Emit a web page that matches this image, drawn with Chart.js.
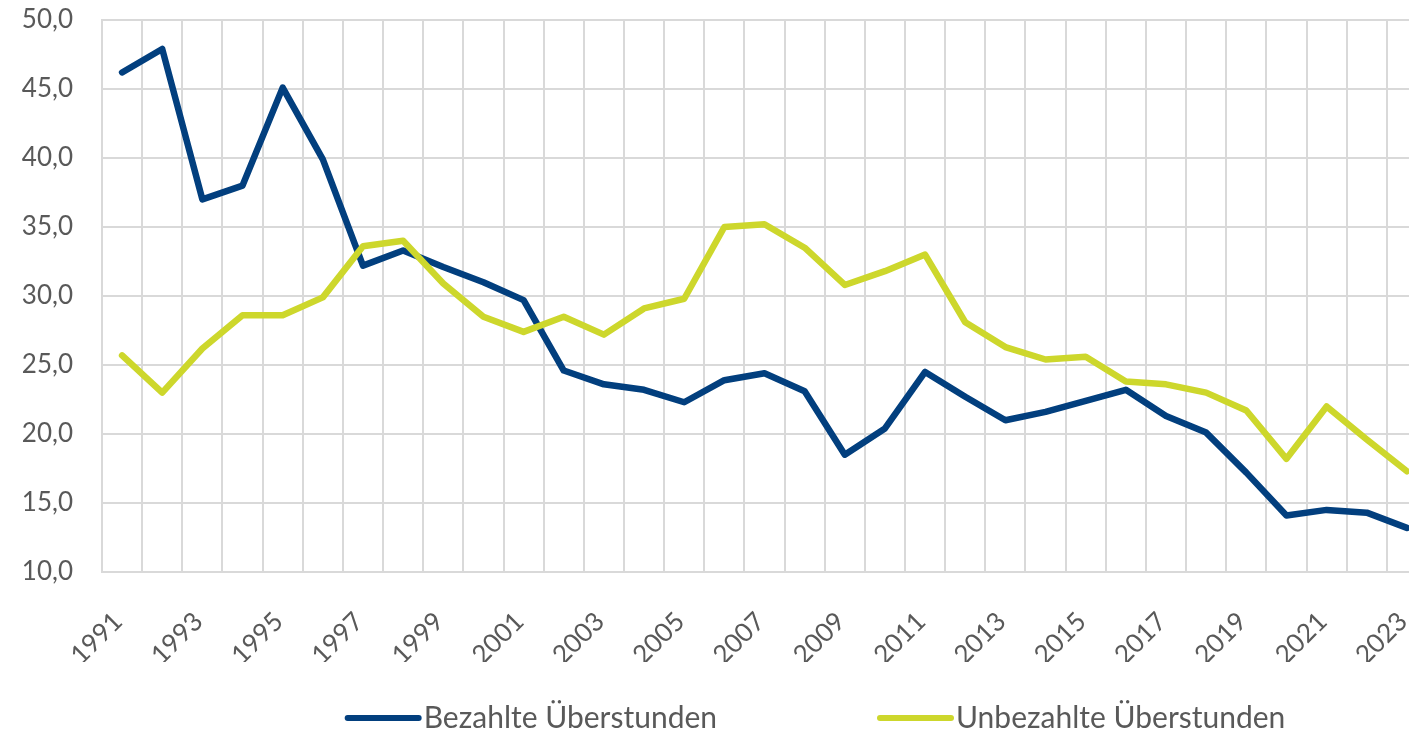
<!DOCTYPE html>
<html>
<head>
<meta charset="utf-8">
<script src="https://cdn.jsdelivr.net/npm/chart.js@4.4.1/dist/chart.umd.min.js"></script>
<style>
  html, body { margin: 0; padding: 0; background: #ffffff; overflow: hidden; }
  #c { display: block; }
</style>
</head>
<body>
<canvas id="c" width="1430" height="731" style="width:1430px;height:731px"></canvas>
<script>
const years = ['1991','1992','1993','1994','1995','1996','1997','1998','1999','2000',
  '2001','2002','2003','2004','2005','2006','2007','2008','2009','2010',
  '2011','2012','2013','2014','2015','2016','2017','2018','2019','2020',
  '2021','2022','2023'];
const bezahlte = [46.2, 47.9, 37.0, 38.0, 45.1, 39.9, 32.2, 33.3, 32.1, 31.0,
  29.7, 24.6, 23.6, 23.2, 22.3, 23.9, 24.4, 23.1, 18.5, 20.4,
  24.5, 22.7, 21.0, 21.6, 22.4, 23.2, 21.3, 20.1, 17.2, 14.1,
  14.5, 14.3, 13.2];
const unbezahlte = [25.7, 23.0, 26.2, 28.6, 28.6, 29.9, 33.6, 34.0, 30.9, 28.5,
  27.4, 28.5, 27.2, 29.1, 29.8, 35.0, 35.2, 33.5, 30.8, 31.8,
  33.0, 28.1, 26.3, 25.4, 25.6, 23.8, 23.6, 23.0, 21.7, 18.2,
  22.0, 19.6, 17.3];
const seriesNames = ['Bezahlte Überstunden', 'Unbezahlte Überstunden'];
const yTicks = { min: 10, max: 50, step: 5 };

const BLUE = '#023f7e';
const GREEN = '#cdd72c';
const GRID = '#d9d9d9';
const TEXT = '#595959';
const FONT = 'Lato, "Open Sans", sans-serif';

const customLegend = {
  id: 'customLegend',
  afterDraw(chart) {
    const ctx = chart.ctx;
    const items = chart.data.datasets.map(d => ({ text: d.label, color: d.borderColor }));
    ctx.save();
    ctx.font = '30px ' + FONT;
    const lineLen = 77, textGap = 2, itemGap = 160;
    const widths = items.map(it => lineLen + textGap + ctx.measureText(it.text).width);
    const total = widths.reduce((a, b) => a + b, 0) + itemGap * (items.length - 1);
    let x = 815 - total / 2;
    const y = 718;
    items.forEach((it, i) => {
      ctx.strokeStyle = it.color;
      ctx.lineWidth = 6;
      ctx.lineCap = 'round';
      ctx.beginPath();
      ctx.moveTo(x + 3, y);
      ctx.lineTo(x + lineLen - 3, y);
      ctx.stroke();
      ctx.fillStyle = TEXT;
      ctx.textBaseline = 'middle';
      ctx.textAlign = 'left';
      ctx.fillText(it.text, x + lineLen + textGap, y);
      x += widths[i] + itemGap;
    });
    ctx.restore();
  }
};

new Chart(document.getElementById('c'), {
  type: 'line',
  data: {
    labels: years,
    datasets: [
      { label: seriesNames[0], data: bezahlte, borderColor: BLUE, backgroundColor: BLUE,
        borderWidth: 6.5, pointRadius: 0, tension: 0, borderJoinStyle: 'round', borderCapStyle: 'round', order: 1 },
      { label: seriesNames[1], data: unbezahlte, borderColor: GREEN, backgroundColor: GREEN,
        borderWidth: 6.5, pointRadius: 0, tension: 0, borderJoinStyle: 'round', borderCapStyle: 'round', order: 0 }
    ]
  },
  options: {
    responsive: false,
    maintainAspectRatio: false,
    animation: false,
    layout: { padding: { left: 0, right: 3, top: 20, bottom: 69 } },
    plugins: { legend: { display: false }, tooltip: { enabled: false } },
    scales: {
      x: {
        type: 'category',
        offset: true,
        grid: { color: GRID, lineWidth: 2, offset: true, drawTicks: true, tickLength: 34, tickColor: 'rgba(0,0,0,0)' },
        border: { color: GRID, width: 2 },
        ticks: {
          autoSkip: false, minRotation: 45, maxRotation: 45, padding: 0, labelOffset: -4,
          color: TEXT, font: { family: FONT, size: 26 },
          callback(v, i) { return i % 2 === 0 ? this.getLabelForValue(v) : ''; }
        },
        afterFit(s) { s.height = 90; }
      },
      y: {
        min: yTicks.min, max: yTicks.max,
        grid: { color: GRID, lineWidth: 2, drawTicks: true, tickLength: 27, tickColor: 'rgba(0,0,0,0)' },
        border: { color: GRID, width: 2 },
        ticks: {
          stepSize: yTicks.step, padding: 2, color: TEXT, font: { family: FONT, size: 26 },
          callback(v) { return v.toFixed(1).replace('.', ','); }
        },
        afterFit(s) { s.width = 102; }
      }
    }
  },
  plugins: [customLegend]
});
</script>
</body>
</html>
